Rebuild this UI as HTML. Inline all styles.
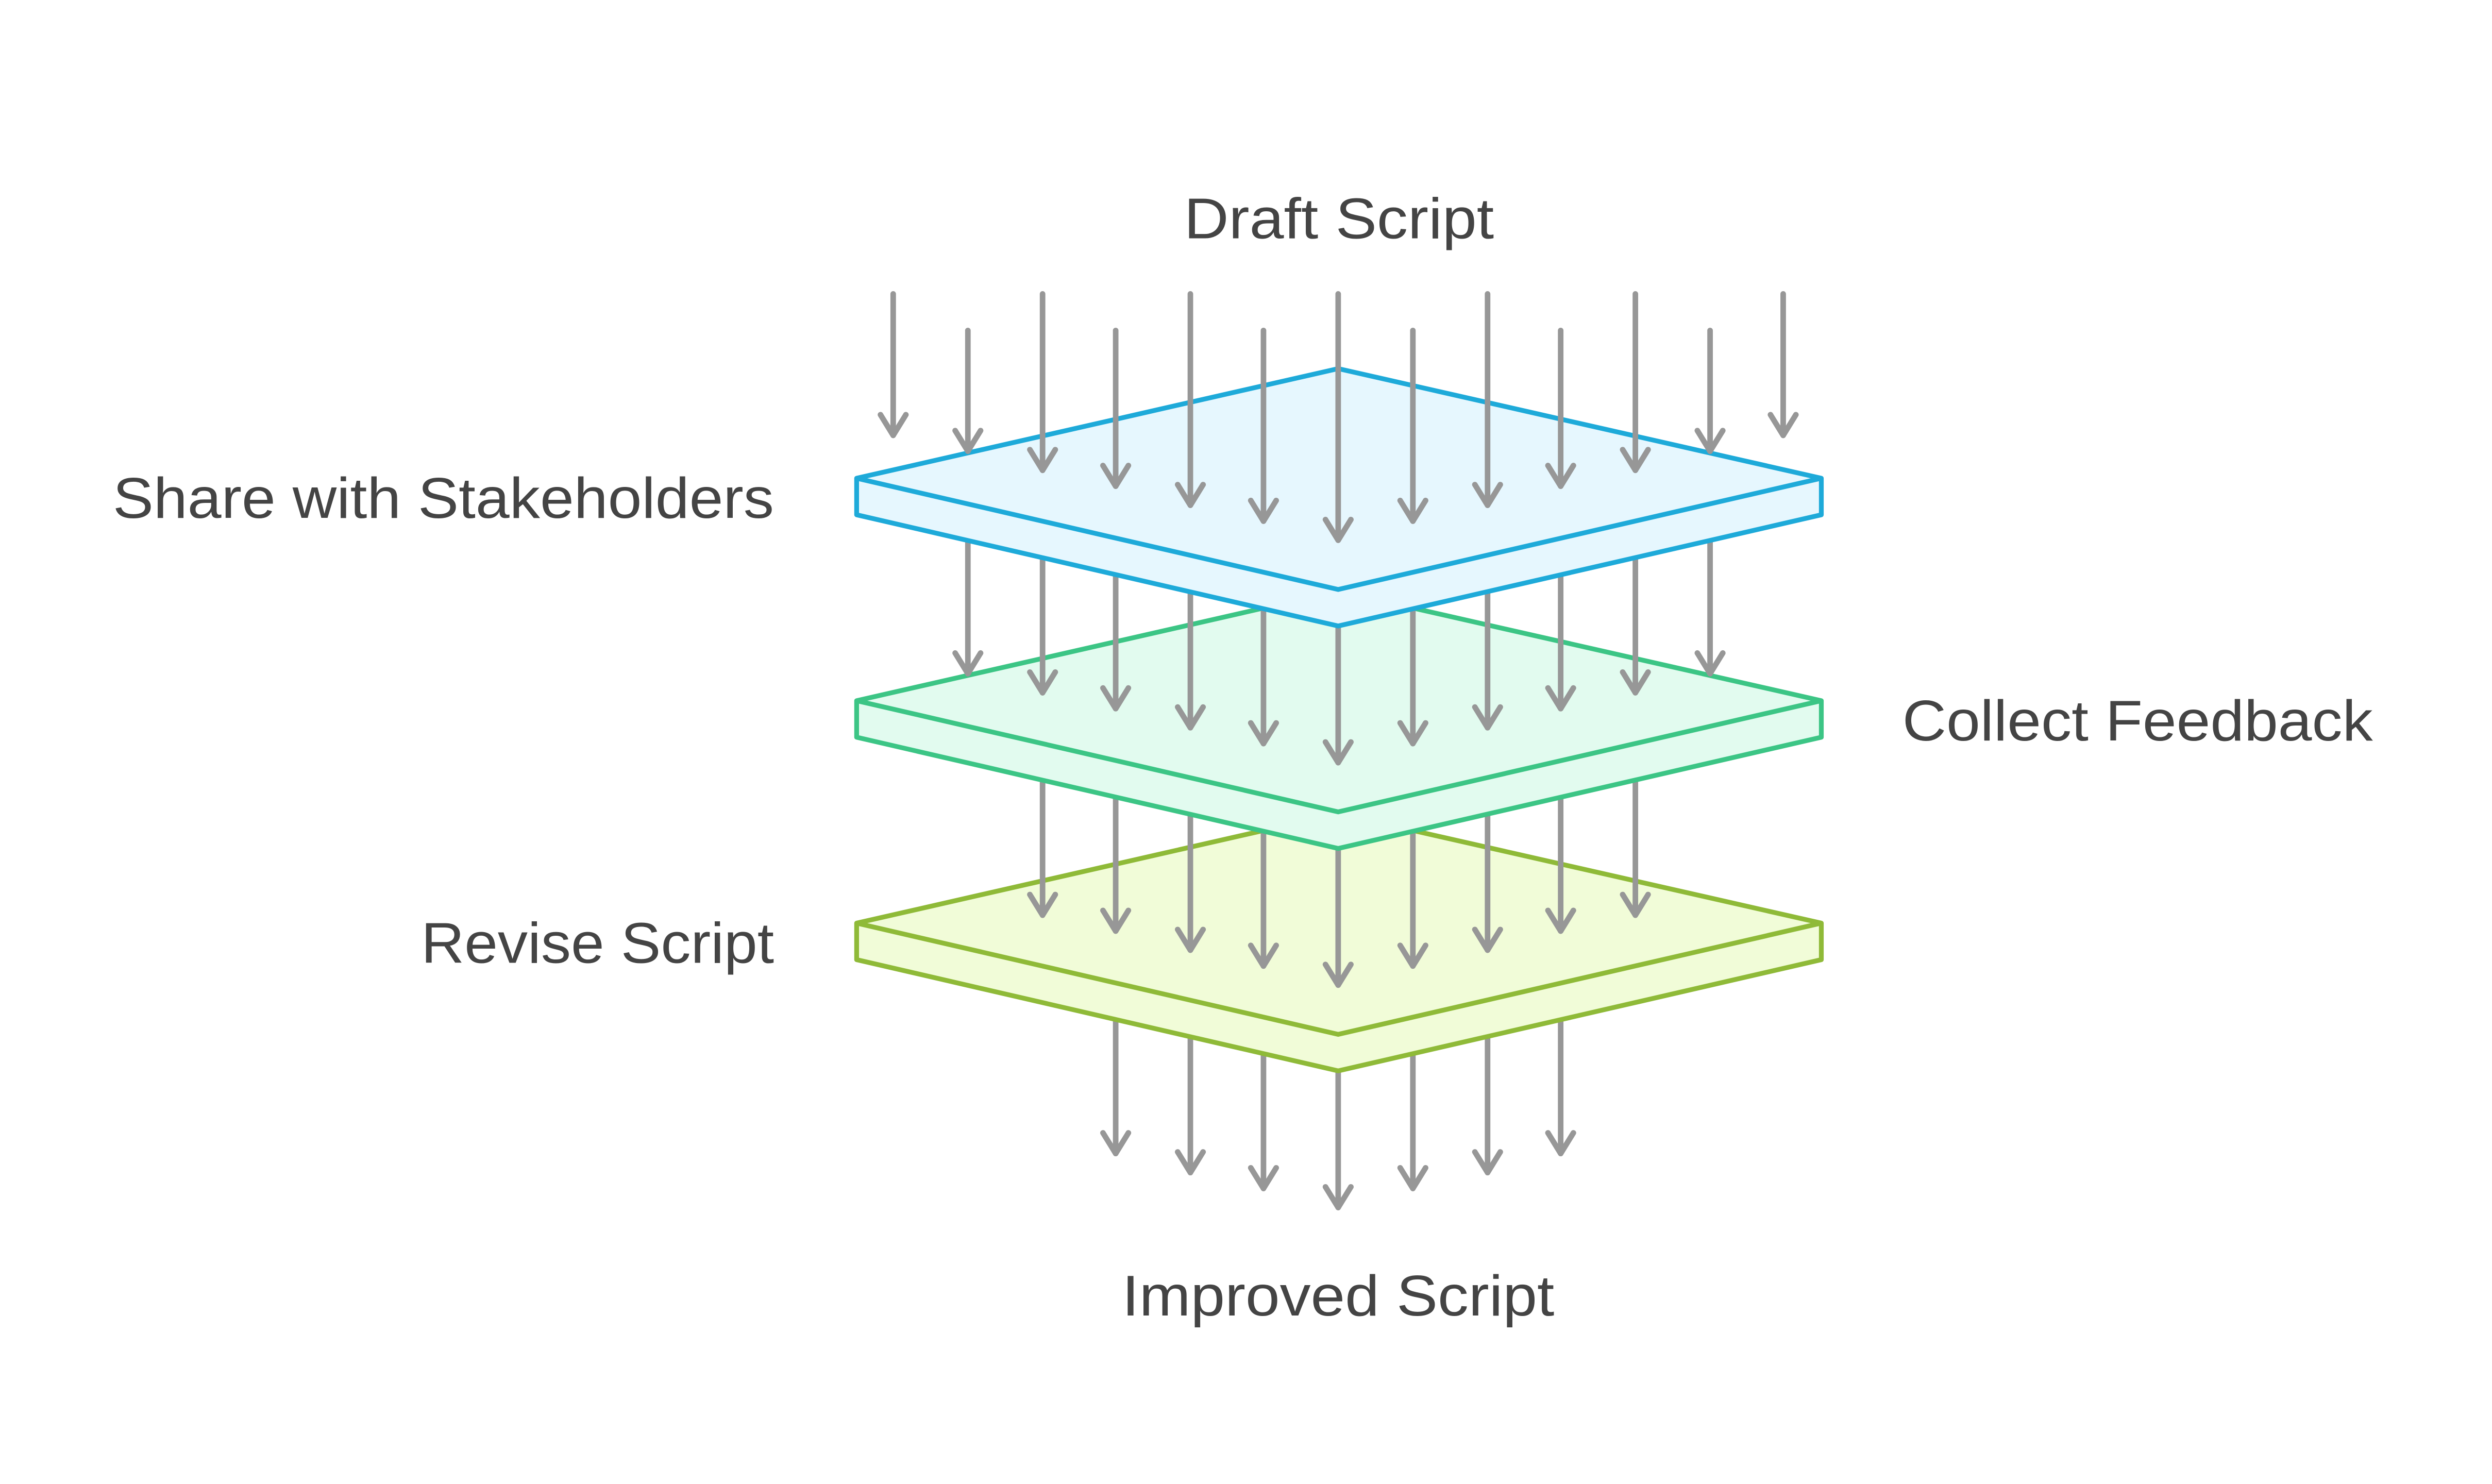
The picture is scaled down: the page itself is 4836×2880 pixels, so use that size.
<!DOCTYPE html>
<html><head><meta charset="utf-8"><style>
html,body{margin:0;padding:0;background:#fff}
svg{display:block}
text{font-family:"Liberation Sans",sans-serif;fill:#444;font-size:36px}
</style></head><body>
<svg width="4836" height="2880" viewBox="0 0 1568 934" preserveAspectRatio="none" xmlns="http://www.w3.org/2000/svg">
<g stroke="#979797" stroke-width="3.5" stroke-linecap="round" fill="none" stroke-linejoin="round">
<path d="M702,600V726M749,600V738M795,600V748M842,600V760M889,600V748M936,600V738M982,600V726"/>
<path d="M694,713L702,726L710,713M741,725L749,738L757,725M787,735L795,748L803,735M834,747L842,760L850,747M881,735L889,748L897,735M928,725L936,738L944,725M974,713L982,726L990,713"/>
</g>
<g stroke="#8fba38" stroke-width="3" fill="#f1fcd8" stroke-linejoin="round">
<path d="M842,512L1146,581V604L842,674L539,604V581Z"/>
<path d="M539,581L842,651L1146,581" fill="none"/>
</g>
<g stroke="#979797" stroke-width="3.5" stroke-linecap="round" fill="none" stroke-linejoin="round">
<path d="M656,460V576M702,460V586M749,460V598M795,460V608M842,460V620M889,460V608M936,460V598M982,460V586M1029,460V576"/>
<path d="M648,563L656,576L664,563M694,573L702,586L710,573M741,585L749,598L757,585M787,595L795,608L803,595M834,607L842,620L850,607M881,595L889,608L897,595M928,585L936,598L944,585M974,573L982,586L990,573M1021,563L1029,576L1037,563"/>
</g>
<g stroke="#3cc585" stroke-width="3" fill="#e2fbef" stroke-linejoin="round">
<path d="M842,372L1146,441V464L842,534L539,464V441Z"/>
<path d="M539,441L842,511L1146,441" fill="none"/>
</g>
<g stroke="#979797" stroke-width="3.5" stroke-linecap="round" fill="none" stroke-linejoin="round">
<path d="M609,320V424M656,320V436M702,320V446M749,320V458M795,320V468M842,320V480M889,320V468M936,320V458M982,320V446M1029,320V436M1076,320V424"/>
<path d="M601,411L609,424L617,411M648,423L656,436L664,423M694,433L702,446L710,433M741,445L749,458L757,445M787,455L795,468L803,455M834,467L842,480L850,467M881,455L889,468L897,455M928,445L936,458L944,445M974,433L982,446L990,433M1021,423L1029,436L1037,423M1068,411L1076,424L1084,411"/>
</g>
<g stroke="#1eaad9" stroke-width="3" fill="#e6f7fe" stroke-linejoin="round">
<path d="M842,232L1146,301V324L842,394L539,324V301Z"/>
<path d="M539,301L842,371L1146,301" fill="none"/>
</g>
<g stroke="#979797" stroke-width="3.5" stroke-linecap="round" fill="none" stroke-linejoin="round">
<path d="M562,185V274M609,208V284M656,185V296M702,208V306M749,185V318M795,208V328M842,185V340M889,208V328M936,185V318M982,208V306M1029,185V296M1076,208V284M1122,185V274"/>
<path d="M554,261L562,274L570,261M601,271L609,284L617,271M648,283L656,296L664,283M694,293L702,306L710,293M741,305L749,318L757,305M787,315L795,328L803,315M834,327L842,340L850,327M881,315L889,328L897,315M928,305L936,318L944,305M974,293L982,306L990,293M1021,283L1029,296L1037,283M1068,271L1076,284L1084,271M1114,261L1122,274L1130,261"/>
</g>
<text x="745" y="150" textLength="195" lengthAdjust="spacingAndGlyphs">Draft Script</text>
<text x="71" y="326" textLength="416" lengthAdjust="spacingAndGlyphs">Share with Stakeholders</text>
<text x="1197" y="466" textLength="296" lengthAdjust="spacingAndGlyphs">Collect Feedback</text>
<text x="265" y="606" textLength="222" lengthAdjust="spacingAndGlyphs">Revise Script</text>
<text x="706" y="828" textLength="272" lengthAdjust="spacingAndGlyphs">Improved Script</text>
</svg>
</body></html>
